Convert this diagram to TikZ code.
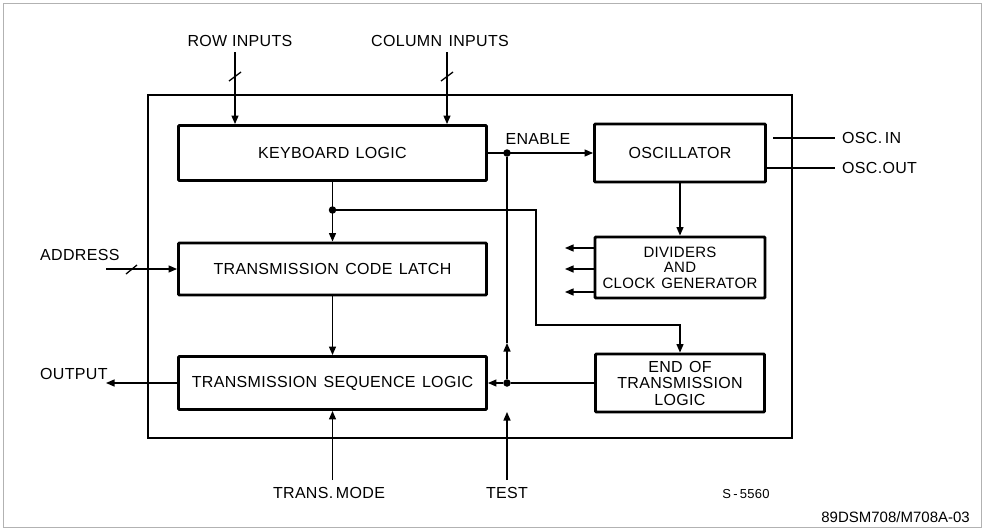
\documentclass[tikz,border=0pt]{standalone}
\usepackage{fontspec}
\setmainfont{Liberation Sans}
\newfontfamily\din[LetterSpace=2]{Liberation Sans}
\usetikzlibrary{arrows.meta}
\newcommand\wsp{\hspace{0.4em}}
\begin{document}
\begin{tikzpicture}[x=1pt,y=-1pt,
  lbl/.style={font=\din\fontsize{16}{17}\selectfont, inner sep=0pt},
  blk/.style={draw, line width=2.9pt, rounded corners=1pt, align=center, inner sep=0pt,
              font=\din\fontsize{16}{16.5}\selectfont},
  wire/.style={line width=1.3pt},
  arr/.style={wire,-{Triangle[length=8.5pt,width=7pt]}},
  dot/.style={circle, fill, inner sep=0pt, minimum size=7.5pt}]
\useasboundingbox (0,0) rectangle (986,530);
\draw[gray!60, line width=0.8pt] (3,3) rectangle (981,527);

% chip outline
\draw[line width=2.8pt] (148,95) rectangle (792,438);

% blocks
\node[blk, minimum width=308pt, minimum height=55pt] (kb) at (332.5,153) {KEYBOARD\wsp LOGIC};
\node[blk, minimum width=171pt, minimum height=58pt] (osc) at (680,153) {OSCILLATOR};
\node[blk, minimum width=170pt, minimum height=61pt, font=\din\fontsize{15}{15.5}\selectfont] (div) at (680,267.5) {DIVIDERS\\AND\\CLOCK\wsp GENERATOR};
\node[blk, minimum width=308pt, minimum height=52pt] (latch) at (332.5,269) {TRANSMISSION\wsp CODE\wsp LATCH};
\node[blk, minimum width=308pt, minimum height=53pt] (tsl) at (332.5,383) {TRANSMISSION\wsp SEQUENCE\wsp LOGIC};
\node[blk, minimum width=169pt, minimum height=58pt] (eot) at (680,383) {END\wsp OF\\TRANSMISSION\\LOGIC};

% junctions and free ends
\node[dot] (en) at (507,153) {};
\node[dot] (j1) at (332.5,210) {};
\node[dot] (j2) at (507,383) {};
\coordinate (rowin) at (235,52);
\coordinate (colin) at (447,52);
\coordinate (b1) at (536,210);
\coordinate (b2) at (536,325);
\coordinate (upa) at (507,343);
\coordinate (tm) at (332.5,480);
\coordinate (tst) at (507,480);
\coordinate (tstend) at (507,412);
\coordinate (ad) at (106,269);
\coordinate (op) at (106,383);
\coordinate (oi1) at (773,138);
\coordinate (oi2) at (835,138);
\coordinate (oo2) at (835,168);

% connectors
\draw[arr] (rowin) -- (rowin |- kb.north);
\draw[wire] (229,81) -- (241,72);
\draw[arr] (colin) -- (colin |- kb.north);
\draw[wire] (441,81) -- (453,72);
\draw[arr] (kb.east) -- (osc.west);
\draw[arr] (osc.south) -- (div.north);
\foreach \yy in {248,269,292} \draw[arr] (div.west |- 0,\yy) -- (565,\yy);
\draw[arr] (kb.south) -- (latch.north);
\draw[arr] (j1) -- (b1) -- (b2) -- (eot.north |- b2) -- (eot.north);
\draw[arr] (latch.south) -- (tsl.north);
\draw[wire] (eot.west) -- (j2);
\draw[arr] (j2) -- (tsl.east);
\draw[arr] (j2) -- (upa);
\draw[wire] (upa) -- (en);
\draw[arr] (tm) -- (tsl.south);
\draw[arr] (tst) -- (tstend);
\draw[arr] (ad) -- (latch.west);
\draw[wire] (126,274) -- (137,265);
\draw[arr] (tsl.west) -- (op);
\draw[wire] (oi1) -- (oi2);
\draw[wire] (osc.east |- oo2) -- (oo2);

% labels
\node[lbl] (lrow) at (240,41) {ROW INPUTS};
\node[lbl] (lcol) at (440,41) {COLUMN\wsp INPUTS};
\node[lbl] (len) at (538,139) {ENABLE};
\node[lbl, anchor=west] (loi) at (842,138) {OSC.\,IN};
\node[lbl, anchor=west] (loo) at (842,168) {OSC.OUT};
\node[lbl, anchor=west] (lad) at (40,255) {ADDRESS};
\node[lbl, anchor=west] (lout) at (40,374) {OUTPUT};
\node[lbl] (ltm) at (329,493) {TRANS.\,MODE};
\node[lbl] (ltest) at (507,493) {TEST};
\node[inner sep=0pt, font=\din\fontsize{13}{14}\selectfont] (ls) at (746,494) {S\,-\,5560};
\node[inner sep=0pt, anchor=east, font=\fontsize{15}{16}\selectfont] (lid) at (970,517) {89DSM708/M708A-03};
\end{tikzpicture}
\end{document}
